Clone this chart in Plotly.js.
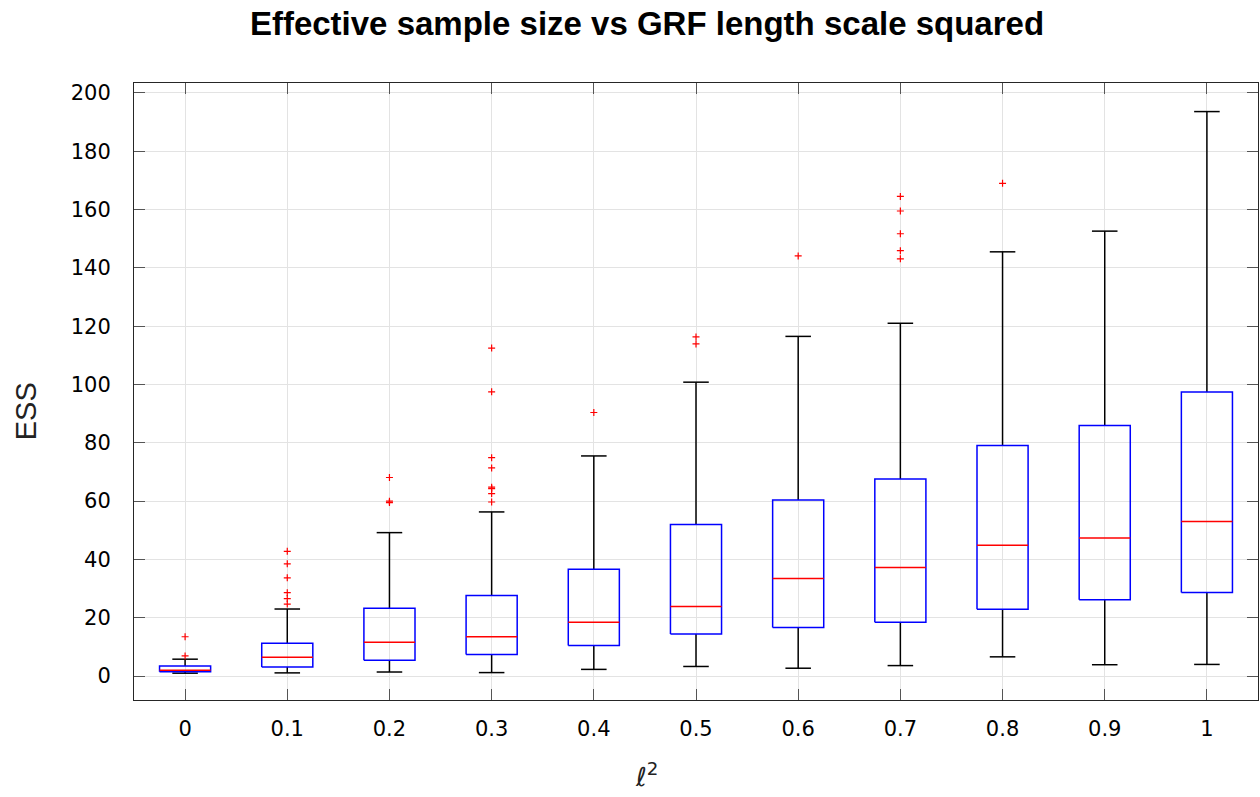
<!DOCTYPE html>
<html>
<head>
<meta charset="utf-8">
<script src="https://cdn.plot.ly/plotly-3.0.1.min.js"></script>
<style>
  html, body { margin: 0; padding: 0; background: #fff; }
  #chart { width: 1260px; height: 797px; }
</style>
</head>
<body>
<div id="chart"></div>
<script>
// Squared GRF length scale for each group
const lengthScaleSq = [0, 0.1, 0.2, 0.3, 0.4, 0.5, 0.6, 0.7, 0.8, 0.9, 1];
const tickLabels = ["0", "0.1", "0.2", "0.3", "0.4", "0.5", "0.6", "0.7", "0.8", "0.9", "1"];
const yTicks = [0, 20, 40, 60, 80, 100, 120, 140, 160, 180, 200];

// Box statistics of the effective sample size per group
const q1 =        [1.5, 3.1, 5.4, 7.4, 10.5, 14.4, 16.7, 18.5, 22.9, 26.2, 28.7];
const medians =   [2.0, 6.5, 11.6, 13.5, 18.5, 23.9, 33.5, 37.2, 44.9, 47.4, 53.0];
const q3 =        [3.5, 11.3, 23.3, 27.6, 36.6, 52.0, 60.4, 67.6, 79.1, 85.9, 97.4];
const whiskerLo = [1.0, 1.1, 1.4, 1.2, 2.3, 3.3, 2.7, 3.6, 6.6, 3.9, 4.0];
const whiskerHi = [5.8, 23.0, 49.2, 56.3, 75.5, 100.8, 116.5, 121.0, 145.5, 152.6, 193.6];

// Outlying runs
const outlierX = [0, 0,
  0.1, 0.1, 0.1, 0.1, 0.1, 0.1,
  0.2, 0.2, 0.2,
  0.3, 0.3, 0.3, 0.3, 0.3, 0.3, 0.3, 0.3,
  0.4,
  0.5, 0.5,
  0.6,
  0.7, 0.7, 0.7, 0.7, 0.7,
  0.8];
const outlierY = [13.5, 6.9,
  42.8, 38.5, 33.7, 28.6, 26.6, 24.7,
  68.1, 60.0, 59.5,
  112.5, 97.5, 74.9, 71.4, 64.8, 64.3, 62.6, 59.7,
  90.4,
  116.3, 113.9,
  144.1,
  164.5, 159.5, 151.7, 145.9, 143.1,
  169.0];

const halfBox = 0.025;     // half box width, x-axis units
const capHalf = 0.0125;    // half length of whisker caps

// Whisker stems and caps: one black polyline broken by nulls
const wx = [], wy = [];
lengthScaleSq.forEach((x, i) => {
  wx.push(x, x, null, x - capHalf, x + capHalf, null);
  wy.push(q3[i], whiskerHi[i], null, whiskerHi[i], whiskerHi[i], null);
  wx.push(x, x, null, x - capHalf, x + capHalf, null);
  wy.push(q1[i], whiskerLo[i], null, whiskerLo[i], whiskerLo[i], null);
});

// Interquartile boxes as closed outlines
const bx = [], by = [];
lengthScaleSq.forEach((x, i) => {
  bx.push(x - halfBox, x + halfBox, x + halfBox, x - halfBox, x - halfBox, null);
  by.push(q1[i], q1[i], q3[i], q3[i], q1[i], null);
});

// Median bars
const mx = [], my = [];
lengthScaleSq.forEach((x, i) => {
  mx.push(x - halfBox, x + halfBox, null);
  my.push(medians[i], medians[i], null);
});

const traces = [
  {
    type: 'scatter', mode: 'lines', x: wx, y: wy,
    line: { color: '#000000', width: 1.5 },
    hoverinfo: 'skip', showlegend: false
  },
  {
    type: 'scatter', mode: 'lines', x: bx, y: by,
    line: { color: '#0000ff', width: 1.5 },
    hoverinfo: 'skip', showlegend: false
  },
  {
    type: 'scatter', mode: 'lines', x: mx, y: my,
    line: { color: '#ff0000', width: 1.5 },
    hoverinfo: 'skip', showlegend: false
  },
  {
    type: 'scatter', mode: 'markers', x: outlierX, y: outlierY,
    marker: { symbol: 'cross-thin', size: 5, line: { color: '#ff0000', width: 1.2 }, color: '#ff0000' },
    showlegend: false
  }
];

const tickFont = { family: 'DejaVu Sans', size: 21, color: '#000' };

const layout = {
  width: 1260, height: 797,
  paper_bgcolor: '#ffffff', plot_bgcolor: '#ffffff',
  margin: { l: 134, r: 2, t: 83, b: 97 },
  showlegend: false,
  title: {
    text: '<b>Effective sample size vs GRF length scale squared</b>',
    font: { family: 'Liberation Sans', size: 33, color: '#000' },
    xref: 'paper', x: 0.4564, xanchor: 'center',
    yref: 'container', y: 0.97, yanchor: 'middle'
  },
  xaxis: {
    type: 'linear',
    range: [-0.05, 1.05],
    tickvals: lengthScaleSq, ticktext: tickLabels,
    tickfont: tickFont,
    ticks: 'inside', ticklen: 11, tickcolor: '#555', tickwidth: 1,
    ticklabelstandoff: 10,
    showgrid: true, gridcolor: '#e3e3e3', gridwidth: 1,
    zeroline: false,
    showline: true, linecolor: '#262626', linewidth: 1, mirror: 'ticks'
  },
  yaxis: {
    range: [-8.2, 203.4],
    tickvals: yTicks,
    tickfont: tickFont,
    ticks: 'inside', ticklen: 11, tickcolor: '#555', tickwidth: 1,
    ticklabelstandoff: 18,
    showgrid: true, gridcolor: '#e3e3e3', gridwidth: 1,
    zeroline: false,
    showline: true, linecolor: '#262626', linewidth: 1, mirror: 'ticks'
  },
  annotations: [
    {
      text: 'ℓ<sup>2</sup>', showarrow: false,
      xref: 'paper', yref: 'paper', x: 0.4564, y: -0.1216,
      xanchor: 'center', yanchor: 'middle',
      font: { family: 'DejaVu Sans', size: 26, color: '#222' }
    },
    {
      text: 'ESS', showarrow: false, textangle: -90,
      xref: 'paper', yref: 'paper', x: -0.0961, y: 0.468,
      xanchor: 'center', yanchor: 'middle',
      font: { family: 'Liberation Sans', size: 29, color: '#222' }
    }
  ]
};

Plotly.newPlot('chart', traces, layout, { displayModeBar: false, staticPlot: true });
</script>
</body>
</html>
